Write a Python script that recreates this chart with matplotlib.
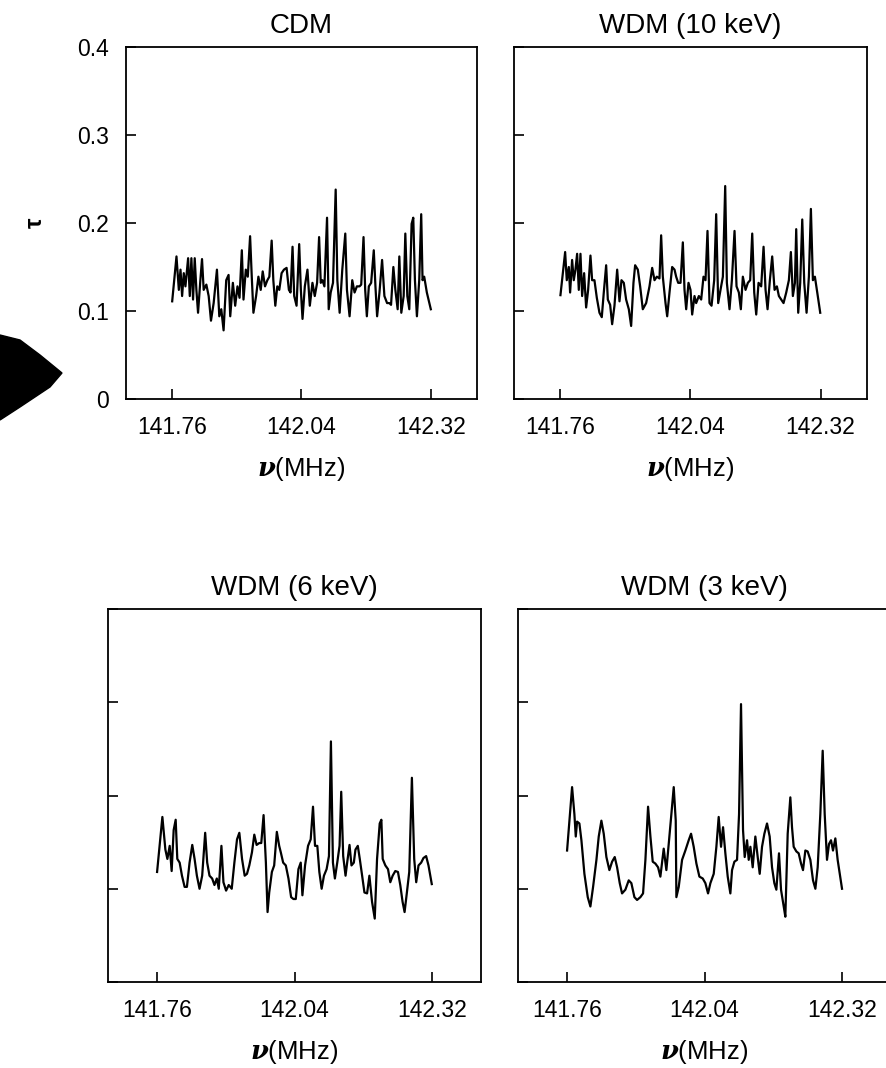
import matplotlib
matplotlib.use("Agg")
import matplotlib.pyplot as plt
from matplotlib.patches import Polygon

plt.rcParams['font.family'] = ['Liberation Sans', 'DejaVu Sans']
plt.rcParams['mathtext.fontset'] = 'dejavuserif'

# --- DATA ---
titles = ['CDM', 'WDM (10 keV)', 'WDM (6 keV)', 'WDM (3 keV)']
x_ticks = [141.76, 142.04, 142.32]
x_ticklabels = ['141.76', '142.04', '142.32']
y_ticks = [0, 0.1, 0.2, 0.3, 0.4]
y_ticklabels = ['0', '0.1', '0.2', '0.3', '0.4']

cdm_nu = [141.7600, 141.7693, 141.7744, 141.7780, 141.7815, 141.7851, 141.7887, 141.7945,
          141.7981, 141.8016, 141.8052, 141.8088, 141.8124, 141.8160, 141.8210, 141.8246,
          141.8282, 141.8340, 141.8390, 141.8440, 141.8498, 141.8569, 141.8620, 141.8663,
          141.8713, 141.8770, 141.8821, 141.8857, 141.8914, 141.8964, 141.9014, 141.9058,
          141.9108, 141.9144, 141.9194, 141.9237, 141.9287, 141.9323, 141.9359, 141.9417,
          141.9467, 141.9517, 141.9560, 141.9610, 141.9661, 141.9704, 141.9754, 141.9790,
          141.9833, 141.9876, 141.9919, 141.9969, 142.0020, 142.0077, 142.0127, 142.0163,
          142.0206, 142.0242, 142.0293, 142.0350, 142.0386, 142.0422, 142.0472, 142.0529,
          142.0580, 142.0637, 142.0687, 142.0738, 142.0781, 142.0817, 142.0853, 142.0896,
          142.0953, 142.0989, 142.1032, 142.1082, 142.1140, 142.1176, 142.1226, 142.1283,
          142.1348, 142.1384, 142.1441, 142.1499, 142.1549, 142.1599, 142.1657, 142.1693,
          142.1743, 142.1779, 142.1815, 142.1858, 142.1908, 142.1965, 142.2001, 142.2037,
          142.2088, 142.2145, 142.2195, 142.2253, 142.2303, 142.2339, 142.2389, 142.2432,
          142.2482, 142.2518, 142.2561, 142.2612, 142.2648, 142.2691, 142.2734, 142.2784,
          142.2820, 142.2856, 142.2899, 142.2949, 142.2992, 142.3021, 142.3057, 142.3114,
          142.3200]
cdm_tau = [0.111, 0.162, 0.124, 0.147, 0.117, 0.143, 0.128, 0.160,
           0.117, 0.160, 0.113, 0.160, 0.124, 0.098, 0.135, 0.159,
           0.124, 0.130, 0.117, 0.089, 0.109, 0.147, 0.094, 0.102,
           0.078, 0.135, 0.141, 0.094, 0.132, 0.106, 0.128, 0.115,
           0.169, 0.113, 0.147, 0.139, 0.185, 0.139, 0.098, 0.117,
           0.139, 0.124, 0.145, 0.128, 0.135, 0.139, 0.180, 0.135,
           0.106, 0.128, 0.124, 0.143, 0.147, 0.149, 0.124, 0.121,
           0.173, 0.117, 0.106, 0.176, 0.124, 0.091, 0.128, 0.147,
           0.106, 0.132, 0.117, 0.132, 0.184, 0.132, 0.135, 0.128,
           0.206, 0.102, 0.121, 0.132, 0.238, 0.135, 0.098, 0.147,
           0.188, 0.124, 0.094, 0.135, 0.121, 0.128, 0.128, 0.130,
           0.184, 0.124, 0.094, 0.128, 0.132, 0.169, 0.128, 0.094,
           0.121, 0.158, 0.117, 0.109, 0.109, 0.107, 0.150, 0.124,
           0.102, 0.162, 0.098, 0.117, 0.188, 0.117, 0.102, 0.199,
           0.206, 0.135, 0.094, 0.135, 0.210, 0.135, 0.139, 0.121,
           0.102]

wdm10_nu = [141.7600, 141.7701, 141.7736, 141.7780, 141.7808, 141.7851, 141.7887, 141.7923,
            141.7959, 141.7995, 141.8031, 141.8067, 141.8110, 141.8153, 141.8196, 141.8246,
            141.8282, 141.8332, 141.8383, 141.8440, 141.8490, 141.8533, 141.8584, 141.8620,
            141.8670, 141.8713, 141.8763, 141.8821, 141.8871, 141.8914, 141.8964, 141.9014,
            141.9072, 141.9122, 141.9172, 141.9208, 141.9266, 141.9316, 141.9373, 141.9445,
            141.9517, 141.9575, 141.9625, 141.9675, 141.9732, 141.9768, 141.9804, 141.9862,
            141.9898, 141.9948, 142.0005, 142.0056, 142.0091, 142.0135, 142.0185, 142.0235,
            142.0271, 142.0307, 142.0357, 142.0400, 142.0436, 142.0486, 142.0522, 142.0580,
            142.0630, 142.0680, 142.0723, 142.0766, 142.0809, 142.0853, 142.0910, 142.0953,
            142.0996, 142.1046, 142.1097, 142.1147, 142.1183, 142.1240, 142.1291, 142.1348,
            142.1391, 142.1441, 142.1484, 142.1527, 142.1585, 142.1635, 142.1685, 142.1729,
            142.1772, 142.1815, 142.1865, 142.1922, 142.1973, 142.2016, 142.2059, 142.2109,
            142.2159, 142.2210, 142.2260, 142.2303, 142.2353, 142.2403, 142.2461, 142.2518,
            142.2561, 142.2604, 142.2648, 142.2676, 142.2719, 142.2762, 142.2806, 142.2849,
            142.2899, 142.2949, 142.2992, 142.3035, 142.3078, 142.3129, 142.3193]
wdm10_tau = [0.118, 0.167, 0.135, 0.150, 0.121, 0.158, 0.135, 0.147,
             0.165, 0.124, 0.165, 0.117, 0.143, 0.104, 0.124, 0.163,
             0.135, 0.135, 0.115, 0.098, 0.093, 0.121, 0.152, 0.113,
             0.107, 0.085, 0.106, 0.147, 0.111, 0.135, 0.132, 0.113,
             0.102, 0.083, 0.132, 0.152, 0.147, 0.128, 0.102, 0.109,
             0.128, 0.149, 0.135, 0.139, 0.137, 0.186, 0.139, 0.109,
             0.094, 0.121, 0.150, 0.147, 0.139, 0.132, 0.132, 0.178,
             0.124, 0.102, 0.132, 0.124, 0.096, 0.117, 0.109, 0.117,
             0.113, 0.139, 0.135, 0.191, 0.109, 0.106, 0.135, 0.210,
             0.109, 0.124, 0.139, 0.242, 0.132, 0.102, 0.135, 0.191,
             0.128, 0.121, 0.102, 0.139, 0.124, 0.132, 0.135, 0.188,
             0.121, 0.096, 0.132, 0.128, 0.173, 0.124, 0.102, 0.135,
             0.162, 0.124, 0.128, 0.117, 0.113, 0.109, 0.121, 0.135,
             0.167, 0.117, 0.132, 0.193, 0.098, 0.132, 0.204, 0.132,
             0.098, 0.139, 0.216, 0.135, 0.139, 0.121, 0.098]

wdm6_nu = [141.7600, 141.7708, 141.7769, 141.7810, 141.7857, 141.7897, 141.7938, 141.7979,
           141.8012, 141.8060, 141.8107, 141.8161, 141.8208, 141.8262, 141.8317, 141.8364,
           141.8411, 141.8465, 141.8519, 141.8580, 141.8621, 141.8668, 141.8722, 141.8769,
           141.8817, 141.8857, 141.8911, 141.8952, 141.9006, 141.9060, 141.9121, 141.9175,
           141.9229, 141.9276, 141.9331, 141.9385, 141.9432, 141.9479, 141.9533, 141.9581,
           141.9628, 141.9682, 141.9723, 141.9770, 141.9817, 141.9851, 141.9885, 141.9939,
           141.9986, 142.0040, 142.0088, 142.0121, 142.0169, 142.0223, 142.0277, 142.0331,
           142.0378, 142.0426, 142.0480, 142.0527, 142.0561, 142.0615, 142.0676, 142.0730,
           142.0777, 142.0818, 142.0865, 142.0906, 142.0953, 142.1000, 142.1054, 142.1102,
           142.1142, 142.1183, 142.1223, 142.1271, 142.1318, 142.1352, 142.1392, 142.1440,
           142.1473, 142.1521, 142.1561, 142.1609, 142.1642, 142.1690, 142.1730, 142.1778,
           142.1825, 142.1879, 142.1926, 142.1980, 142.2035, 142.2082, 142.2136, 142.2170,
           142.2197, 142.2251, 142.2305, 142.2352, 142.2400, 142.2454, 142.2508, 142.2555,
           142.2602, 142.2643, 142.2690, 142.2738, 142.2792, 142.2839, 142.2880, 142.2927,
           142.2981, 142.3028, 142.3082, 142.3130, 142.3197]
wdm6_tau = [0.118, 0.177, 0.142, 0.132, 0.146, 0.119, 0.163, 0.174,
            0.132, 0.128, 0.114, 0.102, 0.102, 0.128, 0.147, 0.132,
            0.114, 0.100, 0.114, 0.160, 0.128, 0.114, 0.111, 0.104,
            0.111, 0.100, 0.146, 0.107, 0.098, 0.104, 0.100, 0.128,
            0.153, 0.160, 0.132, 0.114, 0.116, 0.125, 0.139, 0.158,
            0.147, 0.149, 0.149, 0.179, 0.128, 0.075, 0.096, 0.118,
            0.125, 0.161, 0.146, 0.139, 0.128, 0.125, 0.111, 0.091,
            0.089, 0.089, 0.121, 0.128, 0.093, 0.125, 0.146, 0.153,
            0.188, 0.146, 0.146, 0.118, 0.100, 0.114, 0.121, 0.135,
            0.258, 0.128, 0.111, 0.128, 0.146, 0.204, 0.135, 0.114,
            0.128, 0.147, 0.125, 0.128, 0.142, 0.146, 0.132, 0.114,
            0.096, 0.095, 0.114, 0.086, 0.068, 0.132, 0.170, 0.174,
            0.132, 0.125, 0.121, 0.107, 0.114, 0.119, 0.118, 0.104,
            0.086, 0.075, 0.096, 0.118, 0.219, 0.132, 0.107, 0.125,
            0.128, 0.133, 0.135, 0.125, 0.105]

wdm3_nu = [141.7600, 141.7702, 141.7749, 141.7777, 141.7804, 141.7851, 141.7892, 141.7953,
           141.8021, 141.8075, 141.8130, 141.8198, 141.8245, 141.8299, 141.8347, 141.8401,
           141.8462, 141.8517, 141.8571, 141.8619, 141.8673, 141.8720, 141.8788, 141.8856,
           141.8910, 141.8972, 141.9026, 141.9094, 141.9148, 141.9196, 141.9250, 141.9298,
           141.9345, 141.9399, 141.9454, 141.9501, 141.9569, 141.9623, 141.9671, 141.9725,
           141.9773, 141.9814, 141.9827, 141.9875, 141.9943, 142.0010, 142.0078, 142.0126,
           142.0180, 142.0235, 142.0296, 142.0364, 142.0418, 142.0472, 142.0520, 142.0588,
           142.0642, 142.0689, 142.0737, 142.0778, 142.0825, 142.0873, 142.0927, 142.0961,
           142.1009, 142.1063, 142.1104, 142.1144, 142.1185, 142.1219, 142.1267, 142.1301,
           142.1335, 142.1382, 142.1436, 142.1484, 142.1525, 142.1572, 142.1620, 142.1674,
           142.1728, 142.1776, 142.1823, 142.1864, 142.1918, 142.1959, 142.2014, 142.2047,
           142.2095, 142.2149, 142.2183, 142.2217, 142.2272, 142.2319, 142.2367, 142.2407,
           142.2455, 142.2502, 142.2557, 142.2611, 142.2659, 142.2706, 142.2760, 142.2808,
           142.2849, 142.2896, 142.2937, 142.2978, 142.3018, 142.3066, 142.3113, 142.3202]
wdm3_tau = [0.141, 0.209, 0.180, 0.156, 0.172, 0.170, 0.152, 0.116,
            0.091, 0.081, 0.102, 0.131, 0.156, 0.173, 0.159, 0.134,
            0.120, 0.129, 0.134, 0.123, 0.106, 0.095, 0.099, 0.109,
            0.106, 0.091, 0.088, 0.091, 0.095, 0.131, 0.188, 0.156,
            0.129, 0.127, 0.123, 0.113, 0.143, 0.120, 0.148, 0.180,
            0.209, 0.173, 0.091, 0.102, 0.131, 0.141, 0.152, 0.159,
            0.145, 0.127, 0.113, 0.111, 0.106, 0.095, 0.106, 0.116,
            0.145, 0.177, 0.145, 0.166, 0.138, 0.113, 0.095, 0.120,
            0.129, 0.131, 0.180, 0.298, 0.163, 0.134, 0.152, 0.131,
            0.145, 0.123, 0.156, 0.134, 0.116, 0.145, 0.159, 0.170,
            0.156, 0.123, 0.106, 0.099, 0.138, 0.099, 0.081, 0.070,
            0.159, 0.198, 0.166, 0.145, 0.140, 0.138, 0.127, 0.120,
            0.141, 0.140, 0.131, 0.109, 0.100, 0.123, 0.180, 0.248,
            0.180, 0.131, 0.148, 0.152, 0.141, 0.154, 0.131, 0.100]

series = [(cdm_nu, cdm_tau), (wdm10_nu, wdm10_tau), (wdm6_nu, wdm6_tau), (wdm3_nu, wdm3_tau)]

# --- FIGURE ---
W, H = 886, 1068
fig = plt.figure(figsize=(W / 100, H / 100), dpi=100)

# panel boxes in pixels: left, top, right, bottom
boxes = [(126, 47, 477, 399), (514, 47, 867, 399),
         (108, 609, 481, 982), (518, 609, 891, 982)]

for i, (box, (nu, tau)) in enumerate(zip(boxes, series)):
    l, t, r, b = box
    ax = fig.add_axes([l / W, 1 - b / H, (r - l) / W, (b - t) / H])
    ax.plot(nu, tau, color='black', linewidth=1.6)
    ax.set_xlim(141.66, 142.42)
    ax.set_ylim(0, 0.4)
    ax.set_xticks(x_ticks)
    ax.set_xticklabels(x_ticklabels)
    ax.set_yticks(y_ticks)
    if i == 0:
        ax.set_yticklabels(y_ticklabels)
        ax.set_ylabel('τ', fontsize=17, fontweight='bold', labelpad=22)
    else:
        ax.set_yticklabels([])
    ax.tick_params(direction='in', length=7, width=1.2, labelsize=16.5, pad=12,
                   top=False, right=False)
    for s in ax.spines.values():
        s.set_linewidth(1.3)
    ax.set_title(titles[i], fontsize=20, pad=10)
    ax.set_xlabel(r'$\mathbfit{\nu}$(MHz)', fontsize=18.5, labelpad=12)

# dark scanning smudge at the left edge of the original image
blob = [(0, 335), (20, 340), (40, 355), (62, 373), (50, 387), (20, 407), (0, 420)]
fig.patches.append(Polygon([(x / W, 1 - y / H) for x, y in blob], closed=True,
                           facecolor='black', edgecolor='black',
                           transform=fig.transFigure, figure=fig))

fig.savefig('out.png', dpi=100)
